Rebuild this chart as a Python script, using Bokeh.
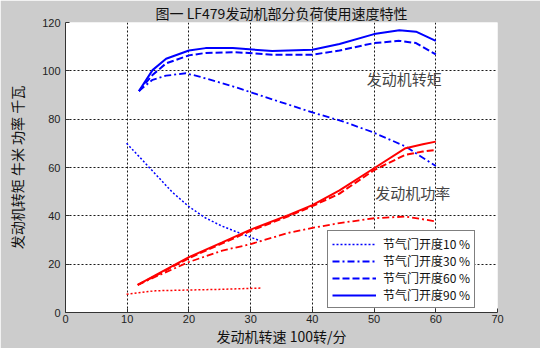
from bokeh.plotting import figure
from bokeh.models import Range1d, FixedTicker, Legend, LegendItem, Label
from bokeh.embed import file_html
from bokeh.resources import INLINE

# --- data (engine speed in 100 rpm) ---
rpm_t10 = [9.9, 11.9, 14.6, 17.3, 20, 22.7, 25.4, 28.1, 31.6]
torque_10 = [70, 64.6, 57.2, 49.8, 43.8, 39.1, 35.7, 33, 29.6]

rpm_t30 = [11.9, 14.1, 16.3, 19.5, 21.7, 27.1, 30.3, 33.5, 40, 44.9, 49.7, 55.1, 60]
torque_30 = [91.6, 96.3, 98, 99, 97.6, 93.6, 90.9, 88.2, 82.8, 79.1, 74.7, 68.7, 60.6]

rpm_t = [11.9, 14.1, 16.3, 20, 22.7, 27.1, 30.3, 33.5, 40, 44.4, 50, 54.1, 56.8, 60]
torque_60 = [91.6, 98.3, 103.1, 106.4, 107.4, 107.7, 107.3, 106.7, 106.7, 108.4, 111.5, 112.4, 111.5, 106.8]
torque_90 = [91.6, 100.3, 105, 108.4, 109.4, 109.4, 108.8, 108.2, 108.7, 111.1, 115.2, 116.8, 116.2, 112.4]

rpm_p10 = [9.9, 14.6, 20, 25.4, 31.6]
power_10 = [7.6, 9, 9.3, 9.6, 10.1]

rpm_p30 = [11.7, 14.6, 20, 25.4, 30, 36.2, 40, 44.4, 50, 55.1, 60]
power_30 = [11.4, 14.8, 20.9, 25.6, 28.3, 33, 35, 37, 39, 39.7, 37.7]

rpm_p = [11.7, 14.6, 20, 25.4, 30, 36.2, 40, 44.4, 50, 55.1, 57.9, 60]
power_60 = [11.4, 15.2, 22.5, 28.6, 33.8, 39.9, 44, 49.2, 58.9, 65.3, 66.6, 67.3]
power_90 = [11.4, 15.5, 22.9, 29, 34.3, 40.4, 44.4, 50.5, 59.7, 68, 69.6, 70.7]

x_ticks = [0, 10, 20, 30, 40, 50, 60, 70]
y_ticks = [0, 20, 40, 60, 80, 100, 120]
legend_labels = ["节气门开度10 %", "节气门开度30 %", "节气门开度60 %", "节气门开度90 %"]

CJK = "Noto Sans CJK SC"
BG = "#cccccc"

p = figure(frame_width=432, frame_height=290, output_backend="svg", toolbar_location=None,
           x_range=Range1d(0, 70), y_range=Range1d(0, 120),
           min_border_left=65, min_border_right=43, min_border_top=0, min_border_bottom=30)
p.border_fill_color = BG
p.background_fill_color = "white"
p.outline_line_color = None

p.title.text = "图一 LF479发动机部分负荷使用速度特性"
p.title.align = "center"
p.title.text_font = CJK
p.title.text_font_size = "14px"
p.title.text_font_style = "normal"
p.title.text_color = "#111111"
p.title.standoff = 0
p.title.offset = 0

for ax in (p.xaxis[0], p.yaxis[0]):
    ax.major_tick_in = 4
    ax.major_tick_out = 0
    ax.minor_tick_in = 0
    ax.minor_tick_out = 0
    ax.axis_line_color = "#333333"
    ax.major_tick_line_color = "#333333"
    ax.major_label_text_font = "Liberation Sans"
    ax.major_label_text_font_size = "11px"
    ax.major_label_text_color = "#222222"
    ax.axis_label_text_font = CJK
    ax.axis_label_text_font_size = "14px"
    ax.axis_label_text_font_style = "normal"
    ax.axis_label_text_color = "#111111"

p.xaxis.ticker = FixedTicker(ticks=x_ticks)
p.yaxis.ticker = FixedTicker(ticks=y_ticks)
p.xaxis.axis_label = "发动机转速 100转/分"
p.yaxis.axis_label = "发动机转矩 牛米 功率 千瓦"
p.xaxis.major_label_standoff = 2
p.xaxis.axis_label_standoff = 0
p.yaxis.major_label_standoff = 5
p.yaxis.axis_label_standoff = 12

for g in (p.xgrid[0], p.ygrid[0]):
    g.grid_line_color = "black"
    g.grid_line_dash = "2 2"
    g.grid_line_width = 1
    g.grid_line_alpha = 0.9

BLUE = "#0000ff"
RED = "#ff0000"
DOT = "2 2"
DASHDOT = "7 3 2 3"
DASH = "7 3"

b10 = p.line(rpm_t10, torque_10, line_color=BLUE, line_width=1.5, line_dash=DOT)
b30 = p.line(rpm_t30, torque_30, line_color=BLUE, line_width=1.8, line_dash=DASHDOT)
b60 = p.line(rpm_t, torque_60, line_color=BLUE, line_width=2, line_dash=DASH)
b90 = p.line(rpm_t, torque_90, line_color=BLUE, line_width=2)

p.line(rpm_p10, power_10, line_color=RED, line_width=1.5, line_dash=DOT)
p.line(rpm_p30, power_30, line_color=RED, line_width=1.8, line_dash=DASHDOT)
p.line(rpm_p, power_60, line_color=RED, line_width=2, line_dash=DASH)
p.line(rpm_p, power_90, line_color=RED, line_width=2)

p.add_layout(Label(x=48.8, y=97, text="发动机转矩", text_font=CJK, text_font_size="15px",
                   text_color="#444444", text_baseline="middle"))
p.add_layout(Label(x=50.2, y=49.7, text="发动机功率", text_font=CJK, text_font_size="15px",
                   text_color="#444444", text_baseline="middle"))

legend = Legend(items=[LegendItem(label=lab, renderers=[r])
                       for lab, r in zip(legend_labels, [b10, b30, b60, b90])],
                location=(262, 4))
legend.label_text_font = CJK
legend.label_text_font_size = "12px"
legend.label_text_color = "#111111"
legend.glyph_width = 44
legend.glyph_height = 14
legend.label_height = 14
legend.spacing = 0
legend.padding = 4
legend.margin = 0
legend.label_standoff = 7
legend.border_line_color = "black"
legend.border_line_width = 1
legend.background_fill_color = "white"
legend.background_fill_alpha = 1
p.add_layout(legend, "center")

open("out.html", "w").write(file_html(p, INLINE))
